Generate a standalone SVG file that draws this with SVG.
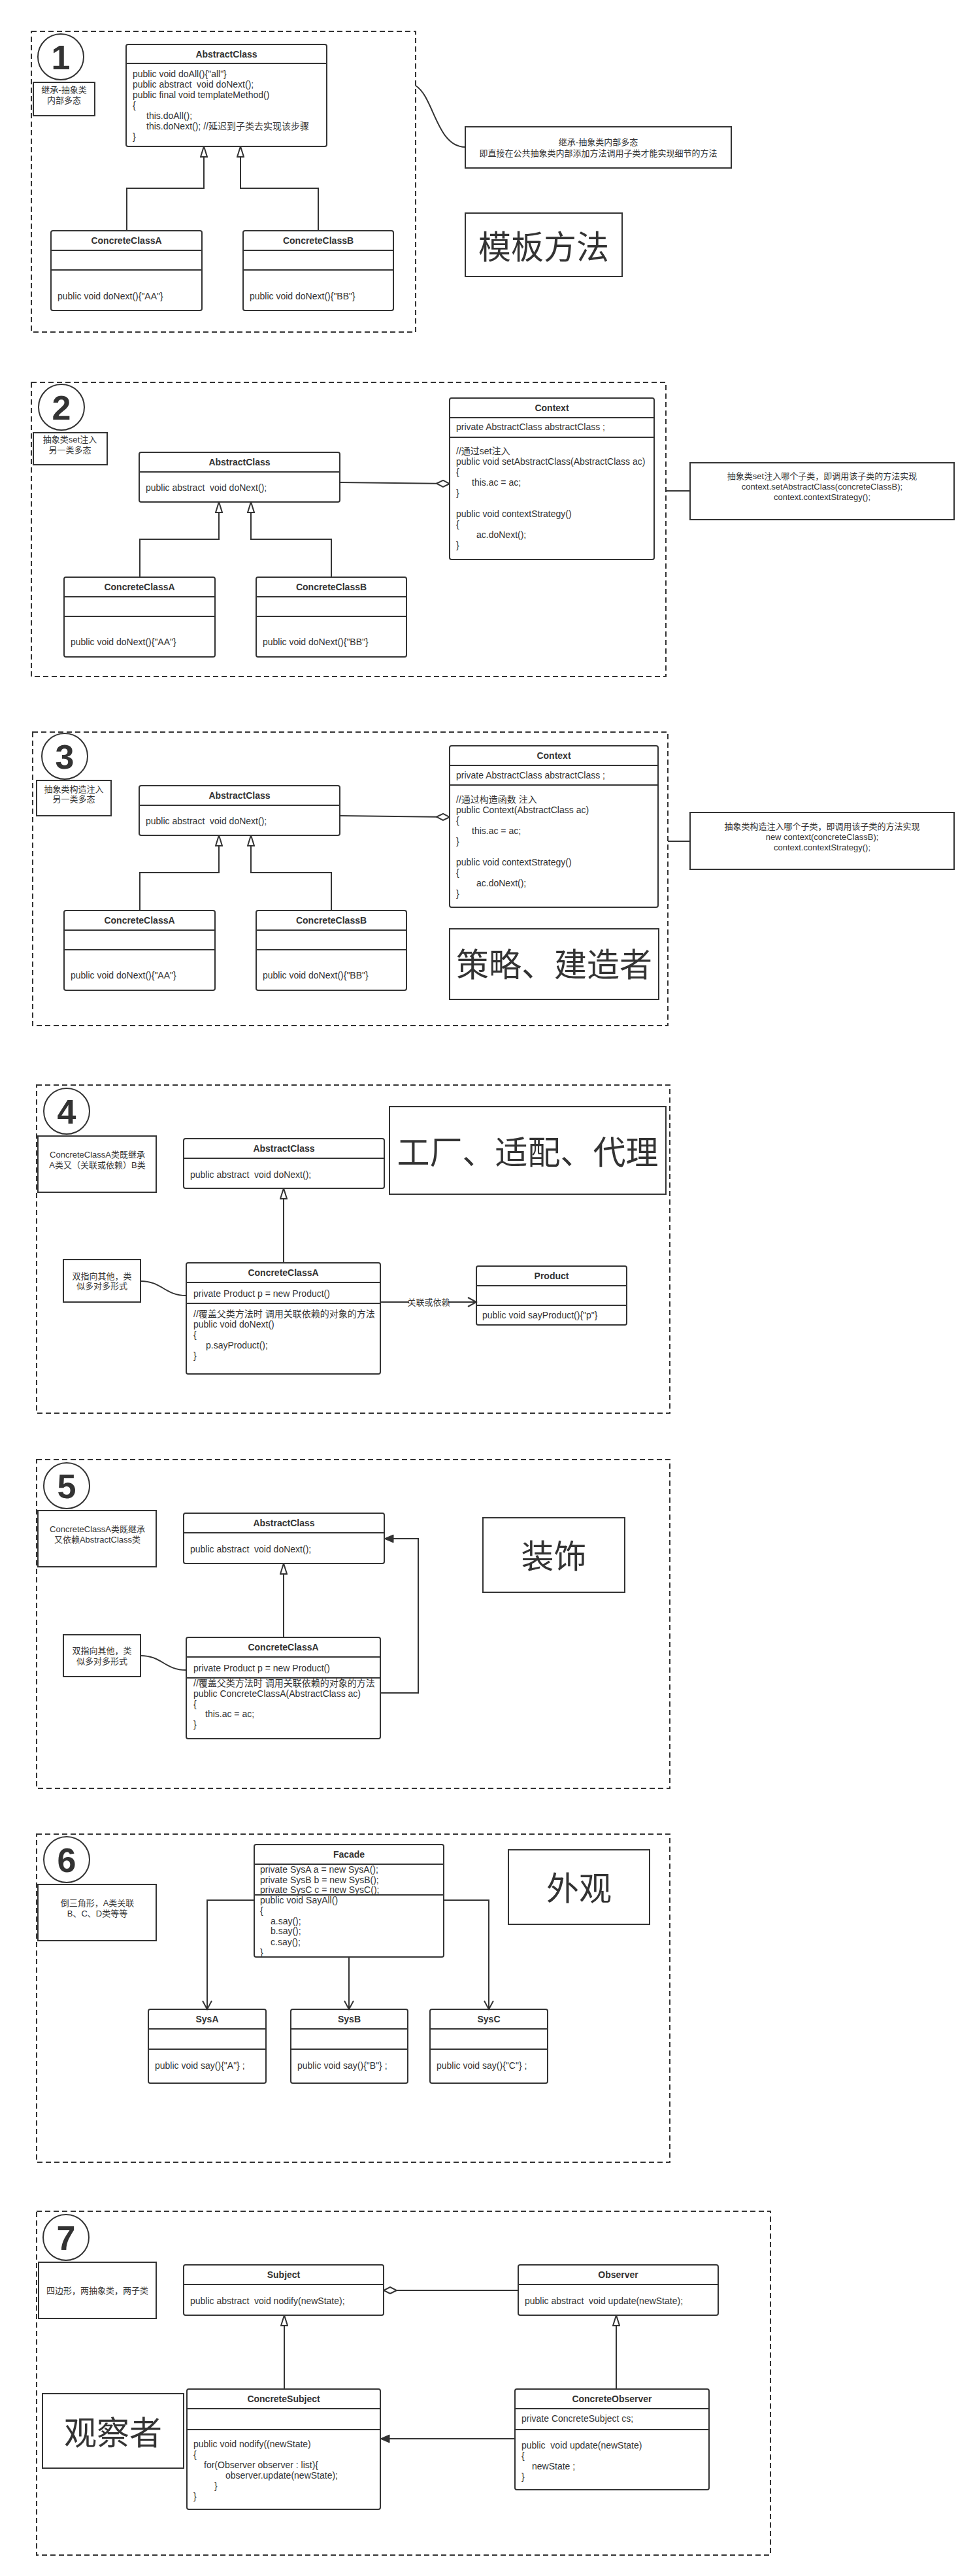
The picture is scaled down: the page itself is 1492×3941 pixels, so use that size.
<svg xmlns="http://www.w3.org/2000/svg" width="1492" height="3941" viewBox="0 0 1492 3941">
<style>
.frame{fill:none;stroke:#333;stroke-width:2;stroke-dasharray:8 5}
.cls{fill:#fff;stroke:#333;stroke-width:2}
.note{fill:#fff;stroke:#333;stroke-width:2}
.dv{stroke:#333;stroke-width:2}
.circ{fill:#fff;stroke:#333;stroke-width:2}
.t{font-family:"Liberation Sans","Noto Sans CJK SC",sans-serif;font-size:14px;fill:#333;white-space:pre}
.b{font-weight:bold;text-anchor:middle}
.n{font-size:13px;text-anchor:middle}
.big{font-family:"Noto Sans CJK SC",sans-serif;font-size:50px;text-anchor:middle;fill:#333}
.num{font-family:"Liberation Sans",sans-serif;font-weight:bold;font-size:52px;text-anchor:middle;fill:#333}
.edge{fill:none;stroke:#333;stroke-width:2}
.inh{marker-end:url(#inh)}
.agg{marker-end:url(#dia)}
.opn{marker-end:url(#open)}
.fil{marker-end:url(#fill)}
</style>
<defs>
<marker id="inh" viewBox="0 0 18 12" refX="17" refY="6" markerWidth="18" markerHeight="12" markerUnits="userSpaceOnUse" orient="auto"><path d="M1,1 L17,6 L1,11 Z" fill="#fff" stroke="#333" stroke-width="2"/></marker>
<marker id="dia" viewBox="0 0 22 12" refX="21" refY="6" markerWidth="22" markerHeight="12" markerUnits="userSpaceOnUse" orient="auto"><path d="M1,6 L11,1 L21,6 L11,11 Z" fill="#fff" stroke="#333" stroke-width="2"/></marker>
<marker id="open" viewBox="0 0 16 16" refX="14" refY="8" markerWidth="16" markerHeight="16" markerUnits="userSpaceOnUse" orient="auto"><path d="M1,1 L14,8 L1,15" fill="none" stroke="#333" stroke-width="2"/></marker>
<marker id="fill" viewBox="0 0 16 14" refX="15" refY="7" markerWidth="16" markerHeight="14" markerUnits="userSpaceOnUse" orient="auto"><path d="M1,1 L15,7 L1,13 Z" fill="#333" stroke="#333" stroke-width="1"/></marker>
</defs>
<rect x="0" y="0" width="1492" height="3941" fill="#fff"/>

<!-- ========== Section 1 ========== -->
<g id="frame1"><rect class="frame" x="48" y="48" width="588" height="460"/></g>
<g id="num1"><circle class="circ" cx="93" cy="87" r="35"/><text class="num" x="93" y="106">1</text></g>
<g id="label1"><rect class="note" x="51" y="126" width="94" height="51"/>
<text class="t n" x="98" y="142">继承-抽象类</text><text class="t n" x="98" y="158">内部多态</text></g>
<g id="s1-abstract"><rect class="cls" x="193" y="68" width="307" height="156" rx="3"/>
<line class="dv" x1="193" y1="97" x2="500" y2="97"/>
<text class="t b" x="346.5" y="87.5">AbstractClass</text>
<text class="t" x="203" y="118">public void doAll(){"all"}</text>
<text class="t" x="203" y="134">public abstract  void doNext();</text>
<text class="t" x="203" y="150">public final void templateMethod()</text>
<text class="t" x="203" y="166">{</text>
<text class="t" x="224" y="182">this.doAll();</text>
<text class="t" x="224" y="198">this.doNext(); //延迟到子类去实现该步骤</text>
<text class="t" x="203" y="214">}</text></g>
<g id="s1-concreteA"><rect class="cls" x="78" y="353" width="231" height="122" rx="3"/>
<line class="dv" x1="78" y1="383" x2="309" y2="383"/><line class="dv" x1="78" y1="413" x2="309" y2="413"/>
<text class="t b" x="193.5" y="373">ConcreteClassA</text>
<text class="t" x="88" y="458">public void doNext(){"AA"}</text></g>
<g id="s1-concreteB"><rect class="cls" x="372" y="353" width="230" height="122" rx="3"/>
<line class="dv" x1="372" y1="383" x2="602" y2="383"/><line class="dv" x1="372" y1="413" x2="602" y2="413"/>
<text class="t b" x="487" y="373">ConcreteClassB</text>
<text class="t" x="382" y="458">public void doNext(){"BB"}</text></g>
<g id="s1-note"><rect class="note" x="712" y="194" width="407" height="63"/>
<text class="t n" x="915.5" y="222">继承-抽象类内部多态</text>
<text class="t n" x="915.5" y="239">即直接在公共抽象类内部添加方法调用子类才能实现细节的方法</text></g>
<g id="s1-title"><rect class="note" x="712" y="326" width="240" height="97"/>
<text class="big" x="832" y="396">模板方法</text></g>

<!-- ========== Section 2 ========== -->
<g id="frame2"><rect class="frame" x="48" y="585" width="971" height="450"/></g>
<g id="num2"><circle class="circ" cx="94" cy="623" r="35"/><text class="num" x="94" y="642">2</text></g>
<g id="label2"><rect class="note" x="51" y="662" width="113" height="49"/>
<text class="t n" x="107" y="677">抽象类set注入</text><text class="t n" x="107" y="693">另一类多态</text></g>
<g id="s2-abstract"><rect class="cls" x="213" y="692" width="307" height="76" rx="3"/>
<line class="dv" x1="213" y1="722" x2="520" y2="722"/>
<text class="t b" x="366.5" y="712">AbstractClass</text>
<text class="t" x="223" y="751">public abstract  void doNext();</text></g>
<g id="s2-concreteA"><rect class="cls" x="98" y="883" width="231" height="122" rx="3"/>
<line class="dv" x1="98" y1="913" x2="329" y2="913"/><line class="dv" x1="98" y1="943" x2="329" y2="943"/>
<text class="t b" x="213.5" y="903">ConcreteClassA</text>
<text class="t" x="108" y="987">public void doNext(){"AA"}</text></g>
<g id="s2-concreteB"><rect class="cls" x="392" y="883" width="230" height="122" rx="3"/>
<line class="dv" x1="392" y1="913" x2="622" y2="913"/><line class="dv" x1="392" y1="943" x2="622" y2="943"/>
<text class="t b" x="507" y="903">ConcreteClassB</text>
<text class="t" x="402" y="987">public void doNext(){"BB"}</text></g>
<g id="s2-context"><rect class="cls" x="688" y="609" width="313" height="247" rx="3"/>
<line class="dv" x1="688" y1="639" x2="1001" y2="639"/><line class="dv" x1="688" y1="669" x2="1001" y2="669"/>
<text class="t b" x="844.5" y="629">Context</text>
<text class="t" x="698" y="658">private AbstractClass abstractClass ;</text>
<text class="t" x="698" y="695">//通过set注入</text>
<text class="t" x="698" y="711">public void setAbstractClass(AbstractClass ac)</text>
<text class="t" x="698" y="727">{</text>
<text class="t" x="722" y="743">this.ac = ac;</text>
<text class="t" x="698" y="759">}</text>
<text class="t" x="698" y="791">public void contextStrategy()</text>
<text class="t" x="698" y="807">{</text>
<text class="t" x="729" y="823">ac.doNext();</text>
<text class="t" x="698" y="839">}</text></g>
<g id="s2-note"><rect class="note" x="1056" y="708" width="404" height="87"/>
<text class="t n" x="1258" y="732.5">抽象类set注入哪个子类，即调用该子类的方法实现</text>
<text class="t n" x="1258" y="748.5">context.setAbstractClass(concreteClassB);</text>
<text class="t n" x="1258" y="764.5">context.contextStrategy();</text></g>

<!-- ========== Section 3 ========== -->
<g id="frame3"><rect class="frame" x="50" y="1120" width="972" height="449"/></g>
<g id="num3"><circle class="circ" cx="99" cy="1157" r="35"/><text class="num" x="99" y="1176">3</text></g>
<g id="label3"><rect class="note" x="56" y="1194" width="114" height="54"/>
<text class="t n" x="113" y="1212">抽象类构造注入</text><text class="t n" x="113" y="1227">另一类多态</text></g>
<g id="s3-abstract"><rect class="cls" x="213" y="1202" width="307" height="76" rx="3"/>
<line class="dv" x1="213" y1="1232" x2="520" y2="1232"/>
<text class="t b" x="366.5" y="1222">AbstractClass</text>
<text class="t" x="223" y="1261">public abstract  void doNext();</text></g>
<g id="s3-concreteA"><rect class="cls" x="98" y="1393" width="231" height="122" rx="3"/>
<line class="dv" x1="98" y1="1423" x2="329" y2="1423"/><line class="dv" x1="98" y1="1453" x2="329" y2="1453"/>
<text class="t b" x="213.5" y="1413">ConcreteClassA</text>
<text class="t" x="108" y="1497">public void doNext(){"AA"}</text></g>
<g id="s3-concreteB"><rect class="cls" x="392" y="1393" width="230" height="122" rx="3"/>
<line class="dv" x1="392" y1="1423" x2="622" y2="1423"/><line class="dv" x1="392" y1="1453" x2="622" y2="1453"/>
<text class="t b" x="507" y="1413">ConcreteClassB</text>
<text class="t" x="402" y="1497">public void doNext(){"BB"}</text></g>
<g id="s3-context"><rect class="cls" x="688" y="1141" width="319" height="247" rx="3"/>
<line class="dv" x1="688" y1="1171" x2="1007" y2="1171"/><line class="dv" x1="688" y1="1201" x2="1007" y2="1201"/>
<text class="t b" x="847.5" y="1161">Context</text>
<text class="t" x="698" y="1191">private AbstractClass abstractClass ;</text>
<text class="t" x="698" y="1228">//通过构造函数 注入</text>
<text class="t" x="698" y="1244">public Context(AbstractClass ac)</text>
<text class="t" x="698" y="1260">{</text>
<text class="t" x="722" y="1276">this.ac = ac;</text>
<text class="t" x="698" y="1292">}</text>
<text class="t" x="698" y="1324">public void contextStrategy()</text>
<text class="t" x="698" y="1340">{</text>
<text class="t" x="729" y="1356">ac.doNext();</text>
<text class="t" x="698" y="1372">}</text></g>
<g id="s3-note"><rect class="note" x="1056" y="1243" width="404" height="87"/>
<text class="t n" x="1258" y="1268.5">抽象类构造注入哪个子类，即调用该子类的方法实现</text>
<text class="t n" x="1258" y="1284.5">new context(concreteClassB);</text>
<text class="t n" x="1258" y="1300.5">context.contextStrategy();</text></g>
<g id="s3-title"><rect class="note" x="688" y="1421" width="320" height="108"/>
<text class="big" x="848" y="1494">策略、建造者</text></g>

<!-- ========== Section 4 ========== -->
<g id="frame4"><rect class="frame" x="56" y="1660" width="969" height="502"/></g>
<g id="num4"><circle class="circ" cx="102" cy="1700" r="35"/><text class="num" x="102" y="1719">4</text></g>
<g id="label4"><rect class="note" x="58" y="1738" width="181" height="86"/>
<text class="t n" x="149" y="1770.5">ConcreteClassA类既继承</text><text class="t n" x="149" y="1786.5">A类又（关联或依赖）B类</text></g>
<g id="s4-abstract"><rect class="cls" x="281" y="1742" width="307" height="76" rx="3"/>
<line class="dv" x1="281" y1="1772" x2="588" y2="1772"/>
<text class="t b" x="434.5" y="1762">AbstractClass</text>
<text class="t" x="291" y="1802">public abstract  void doNext();</text></g>
<g id="s4-title"><rect class="note" x="596" y="1693" width="423" height="134"/>
<text class="big" x="807.5" y="1781">工厂、适配、代理</text></g>
<g id="s4-concreteA"><rect class="cls" x="285" y="1932" width="297" height="170" rx="3"/>
<line class="dv" x1="285" y1="1962" x2="582" y2="1962"/><line class="dv" x1="285" y1="1994" x2="582" y2="1994"/>
<text class="t b" x="433.5" y="1952">ConcreteClassA</text>
<text class="t" x="296" y="1984">private Product p = new Product()</text>
<text class="t" x="296" y="2015">//覆盖父类方法时 调用关联依赖的对象的方法</text>
<text class="t" x="296" y="2031">public void doNext()</text>
<text class="t" x="296" y="2047">{</text>
<text class="t" x="315" y="2063">p.sayProduct();</text>
<text class="t" x="296" y="2079">}</text></g>
<g id="s4-product"><rect class="cls" x="729" y="1937" width="230" height="90" rx="3"/>
<line class="dv" x1="729" y1="1967" x2="959" y2="1967"/><line class="dv" x1="729" y1="1997" x2="959" y2="1997"/>
<text class="t b" x="844" y="1957">Product</text>
<text class="t" x="738" y="2017">public void sayProduct(){"p"}</text></g>
<g id="s4-note"><rect class="note" x="97" y="1927" width="118" height="65"/>
<text class="t n" x="156" y="1956.5">双指向其他，类</text><text class="t n" x="156" y="1971.5">似多对多形式</text></g>

<!-- ========== Section 5 ========== -->
<g id="frame5"><rect class="frame" x="56" y="2233" width="969" height="503"/></g>
<g id="num5"><circle class="circ" cx="102" cy="2273" r="35"/><text class="num" x="102" y="2292">5</text></g>
<g id="label5"><rect class="note" x="58" y="2311" width="181" height="86"/>
<text class="t n" x="149" y="2343.5">ConcreteClassA类既继承</text><text class="t n" x="149" y="2359.5">又依赖AbstractClass类</text></g>
<g id="s5-abstract"><rect class="cls" x="281" y="2315" width="307" height="77" rx="3"/>
<line class="dv" x1="281" y1="2345" x2="588" y2="2345"/>
<text class="t b" x="434.5" y="2335">AbstractClass</text>
<text class="t" x="291" y="2375">public abstract  void doNext();</text></g>
<g id="s5-title"><rect class="note" x="739" y="2322" width="217" height="114"/>
<text class="big" x="847.5" y="2399">装饰</text></g>
<g id="s5-concreteA"><rect class="cls" x="285" y="2505" width="297" height="155" rx="3"/>
<line class="dv" x1="285" y1="2535" x2="582" y2="2535"/><line class="dv" x1="285" y1="2567" x2="582" y2="2567"/>
<text class="t b" x="433.5" y="2525">ConcreteClassA</text>
<text class="t" x="296" y="2557">private Product p = new Product()</text>
<text class="t" x="296" y="2580">//覆盖父类方法时 调用关联依赖的对象的方法</text>
<text class="t" x="296" y="2596">public ConcreteClassA(AbstractClass ac)</text>
<text class="t" x="296" y="2612">{</text>
<text class="t" x="314" y="2627">this.ac = ac;</text>
<text class="t" x="296" y="2643">}</text></g>
<g id="s5-note"><rect class="note" x="97" y="2501" width="118" height="64"/>
<text class="t n" x="156" y="2529.5">双指向其他，类</text><text class="t n" x="156" y="2545.5">似多对多形式</text></g>

<!-- ========== Section 6 ========== -->
<g id="frame6"><rect class="frame" x="56" y="2806" width="969" height="502"/></g>
<g id="num6"><circle class="circ" cx="102" cy="2845" r="35"/><text class="num" x="102" y="2864">6</text></g>
<g id="label6"><rect class="note" x="58" y="2883" width="181" height="86"/>
<text class="t n" x="149" y="2915.5">倒三角形，A类关联</text><text class="t n" x="149" y="2931.5">B、C、D类等等</text></g>
<g id="s6-facade"><rect class="cls" x="389" y="2822" width="290" height="172" rx="3"/>
<line class="dv" x1="389" y1="2852" x2="679" y2="2852"/><line class="dv" x1="389" y1="2899" x2="679" y2="2899"/>
<text class="t b" x="534" y="2842">Facade</text>
<text class="t" x="398" y="2865">private SysA a = new SysA();</text>
<text class="t" x="398" y="2881">private SysB b = new SysB();</text>
<text class="t" x="398" y="2896">private SysC c = new SysC();</text>
<text class="t" x="398" y="2912">public void SayAll()</text>
<text class="t" x="398" y="2928">{</text>
<text class="t" x="414" y="2944">a.say();</text>
<text class="t" x="414" y="2959">b.say();</text>
<text class="t" x="414" y="2976">c.say();</text>
<text class="t" x="398" y="2992">}</text></g>
<g id="s6-sysA"><rect class="cls" x="227" y="3074" width="180" height="113" rx="3"/>
<line class="dv" x1="227" y1="3104" x2="407" y2="3104"/><line class="dv" x1="227" y1="3135" x2="407" y2="3135"/>
<text class="t b" x="317" y="3094">SysA</text>
<text class="t" x="237" y="3165">public void say(){"A"} ;</text></g>
<g id="s6-sysB"><rect class="cls" x="445" y="3074" width="179" height="113" rx="3"/>
<line class="dv" x1="445" y1="3104" x2="624" y2="3104"/><line class="dv" x1="445" y1="3135" x2="624" y2="3135"/>
<text class="t b" x="534.5" y="3094">SysB</text>
<text class="t" x="455" y="3165">public void say(){"B"} ;</text></g>
<g id="s6-sysC"><rect class="cls" x="658" y="3074" width="180" height="113" rx="3"/>
<line class="dv" x1="658" y1="3104" x2="838" y2="3104"/><line class="dv" x1="658" y1="3135" x2="838" y2="3135"/>
<text class="t b" x="748" y="3094">SysC</text>
<text class="t" x="668" y="3165">public void say(){"C"} ;</text></g>
<g id="s6-title"><rect class="note" x="778" y="2830" width="216" height="114"/>
<text class="big" x="886" y="2907">外观</text></g>

<!-- ========== Section 7 ========== -->
<g id="frame7"><rect class="frame" x="56" y="3383" width="1123" height="526"/></g>
<g id="num7"><circle class="circ" cx="101" cy="3423" r="35"/><text class="num" x="101" y="3442">7</text></g>
<g id="label7"><rect class="note" x="59" y="3461" width="180" height="86"/>
<text class="t n" x="149" y="3508.5">四边形，两抽象类，两子类</text></g>
<g id="s7-subject"><rect class="cls" x="281" y="3465" width="306" height="77" rx="3"/>
<line class="dv" x1="281" y1="3495" x2="587" y2="3495"/>
<text class="t b" x="434" y="3485">Subject</text>
<text class="t" x="291" y="3525">public abstract  void nodify(newState);</text></g>
<g id="s7-observer"><rect class="cls" x="793" y="3465" width="306" height="77" rx="3"/>
<line class="dv" x1="793" y1="3495" x2="1099" y2="3495"/>
<text class="t b" x="946" y="3485">Observer</text>
<text class="t" x="803" y="3525">public abstract  void update(newState);</text></g>
<g id="s7-concreteSubject"><rect class="cls" x="286" y="3655" width="296" height="184" rx="3"/>
<line class="dv" x1="286" y1="3685" x2="582" y2="3685"/><line class="dv" x1="286" y1="3717" x2="582" y2="3717"/>
<text class="t b" x="434" y="3675">ConcreteSubject</text>
<text class="t" x="296" y="3744">public void nodify((newState)</text>
<text class="t" x="296" y="3760">{</text>
<text class="t" x="312" y="3776">for(Observer observer : list){</text>
<text class="t" x="345" y="3792">observer.update(newState);</text>
<text class="t" x="328" y="3808">}</text>
<text class="t" x="296" y="3824">}</text></g>
<g id="s7-concreteObserver"><rect class="cls" x="788" y="3655" width="297" height="154" rx="3"/>
<line class="dv" x1="788" y1="3685" x2="1085" y2="3685"/><line class="dv" x1="788" y1="3717" x2="1085" y2="3717"/>
<text class="t b" x="936.5" y="3675">ConcreteObserver</text>
<text class="t" x="798" y="3705">private ConcreteSubject cs;</text>
<text class="t" x="798" y="3746">public  void update(newState)</text>
<text class="t" x="798" y="3762">{</text>
<text class="t" x="814" y="3778">newState ;</text>
<text class="t" x="798" y="3794">}</text></g>
<g id="s7-title"><rect class="note" x="65" y="3662" width="216" height="114"/>
<text class="big" x="173" y="3740">观察者</text></g>

<!-- ========== Connectors ========== -->
<g id="connectors">
<path class="edge inh" d="M194,353 L194,288 L312,288 L312,224"/>
<path class="edge inh" d="M487,353 L487,288 L368,288 L368,224"/>
<path class="edge" d="M636,131 C664,148 668,225 712,225"/>
<path class="edge inh" d="M214,883 L214,825 L335,825 L335,768"/>
<path class="edge inh" d="M507,883 L507,825 L384,825 L384,768"/>
<path class="edge agg" d="M520,738 L688,740"/>
<path class="edge" d="M1019,751 L1056,751"/>
<path class="edge inh" d="M214,1393 L214,1335 L335,1335 L335,1278"/>
<path class="edge inh" d="M507,1393 L507,1335 L384,1335 L384,1278"/>
<path class="edge agg" d="M520,1248 L688,1250"/>
<path class="edge" d="M1022,1287 L1056,1287"/>
<path class="edge inh" d="M434,1932 L434,1818"/>
<path class="edge opn" d="M582,1992 L729,1992"/>
<rect x="626" y="1984" width="60" height="16" fill="#fff"/>
<text class="t n" x="656" y="1996.5">关联或依赖</text>
<path class="edge" d="M215,1960 C248,1960 252,1982 285,1982"/>
<path class="edge inh" d="M434,2505 L434,2392"/>
<path class="edge fil" d="M582,2590 L640,2590 L640,2354 L588,2354"/>
<path class="edge" d="M215,2533 C248,2533 252,2555 285,2555"/>
<path class="edge opn" d="M389,2907 L317,2907 L317,3074"/>
<path class="edge opn" d="M534,2994 L534,3074"/>
<path class="edge opn" d="M679,2907 L748,2907 L748,3074"/>
<path class="edge agg" d="M793,3504 L587,3504"/>
<path class="edge inh" d="M435,3655 L435,3542"/>
<path class="edge inh" d="M943,3655 L943,3542"/>
<path class="edge fil" d="M788,3731 L582,3731"/>
</g>
</svg>
